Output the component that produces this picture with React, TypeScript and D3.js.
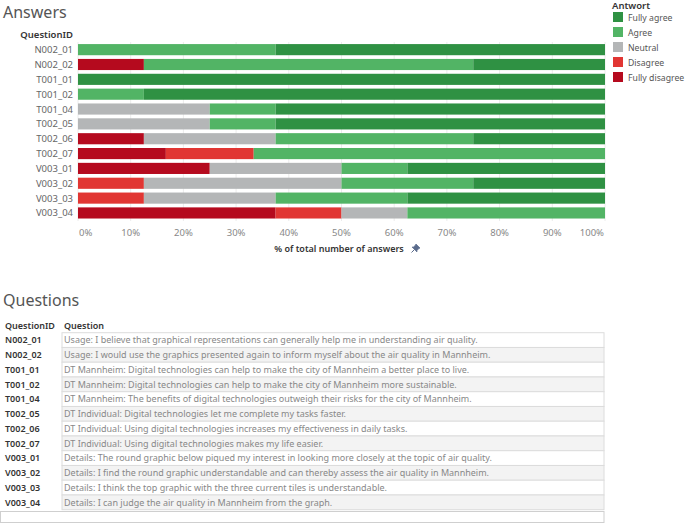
import React from "react";
import * as d3 from "d3";

const questionIds = ["N002_01","N002_02","T001_01","T001_02","T001_04","T002_05","T002_06","T002_07","V003_01","V003_02","V003_03","V003_04"];
const answers = ["Fully disagree","Disagree","Neutral","Agree","Fully agree"];
const legendOrder = ["Fully agree","Agree","Neutral","Disagree","Fully disagree"];
const answerColors = ["#b50a1e","#e13633","#b4b6b7","#52b465","#2f9143"];
// percentages per question: Fully disagree, Disagree, Neutral, Agree, Fully agree
const fullyDisagree = [0,12.5,0,0,0,0,12.5,16.67,25,0,0,37.5];
const disagree =      [0,0,0,0,0,0,0,16.67,0,12.5,12.5,12.5];
const neutral =       [0,0,0,0,25,25,25,0,25,37.5,25,12.5];
const agree =         [37.5,62.5,0,12.5,12.5,12.5,37.5,66.66,12.5,25,25,37.5];
const fullyAgree =    [62.5,25,100,87.5,62.5,62.5,25,0,37.5,25,37.5,0];
const xTicks = [0,10,20,30,40,50,60,70,80,90,100];
const questionTexts = [
  "Usage: I believe that graphical representations can generally help me in understanding air quality.",
  "Usage: I would use the graphics presented again to inform myself about the air quality in Mannheim.",
  "DT Mannheim: Digital technologies can help to make the city of Mannheim a better place to live.",
  "DT Mannheim: Digital technologies can help to make the city of Mannheim more sustainable.",
  "DT Mannheim: The benefits of digital technologies outweigh their risks for the city of Mannheim.",
  "DT Individual: Digital technologies let me complete my tasks faster.",
  "DT Individual: Using digital technologies increases my effectiveness in daily tasks.",
  "DT Individual: Using digital technologies makes my life easier.",
  "Details: The round graphic below piqued my interest in looking more closely at the topic of air quality.",
  "Details: I find the round graphic understandable and can thereby assess the air quality in Mannheim.",
  "Details: I think the top graphic with the three current tiles is understandable.",
  "Details: I can judge the air quality in Mannheim from the graph.",
];

const FONT = "'Noto Sans', sans-serif";

export default function App() {
  const W = 685, H = 524;
  const x = d3.scaleLinear().domain([0, 100]).range([78, 605]);
  const y = d3.scaleBand().domain(questionIds).range([42.3, 220.3]).paddingInner(0.25).paddingOuter(0.12);
  const rows = questionIds.map((id, i) => ({
    id,
    "Fully disagree": fullyDisagree[i],
    "Disagree": disagree[i],
    "Neutral": neutral[i],
    "Agree": agree[i],
    "Fully agree": fullyAgree[i],
  }));
  const stack = d3.stack<any>().keys(answers)(rows);
  const color = d3.scaleOrdinal<string, string>().domain(answers).range(answerColors);

  const tRow = d3.scaleBand().domain(questionIds).range([332.7, 509.7]);

  return (
    <svg width={W} height={H} style={{ position: "absolute", left: 0, top: 0, fontFamily: FONT }}>
      <rect width={W} height={H} fill="#fff" />
      <text x={3} y={18} fontSize={16} fill="#555">Answers</text>
      <text x={73} y={38} fontSize={9.5} fill="#333" textAnchor="end" fontWeight={600}>QuestionID</text>
      {xTicks.map(t => (
        <line key={t} x1={x(t)} x2={x(t)} y1={42} y2={221} stroke="#ececec" strokeWidth={1} />
      ))}
      {stack.map(s => (
        <g key={s.key} fill={color(s.key)}>
          {s.map((d, i) => d[1] - d[0] > 0 ? (
            <rect key={i} x={x(d[0])} y={y(questionIds[i])!} width={x(d[1]) - x(d[0])} height={y.bandwidth()} />
          ) : null)}
        </g>
      ))}
      {questionIds.map(id => (
        <text key={id} x={73} y={y(id)! + y.bandwidth() / 2 + 3.5} fontSize={9.5} fill="#666" textAnchor="end">{id}</text>
      ))}
      {xTicks.map((t, i) => (
        <text key={t} x={i === 0 ? 79 : i === xTicks.length - 1 ? 604 : x(t)} y={236} fontSize={9.5} fill="#888"
          textAnchor={i === 0 ? "start" : i === xTicks.length - 1 ? "end" : "middle"}>{t}%</text>
      ))}
      <text x={339} y={252} fontSize={9} fill="#333" fontWeight={600} textAnchor="middle">% of total number of answers</text>
      <g transform="translate(412,244)" fill="#5a6b8c" stroke="#5a6b8c" strokeWidth={0.7}>
        <path d="M4 0 L8 4 L6.5 4.8 L4.8 6.8 L5 8 L0 3 L1.2 3.2 L3.2 1.5 Z" />
        <path d="M2.5 5.5 L-0.5 8.5" fill="none" strokeWidth={1} />
      </g>

      <text x={612} y={9} fontSize={9.5} fill="#333" fontWeight={600}>Antwort</text>
      {legendOrder.map((k, i) => (
        <g key={k}>
          <rect x={613} y={12 + i * 15} width={10} height={10} fill={color(k)} />
          <text x={628} y={21 + i * 15} fontSize={8.7} fill="#555">{k}</text>
        </g>
      ))}

      <text x={3} y={306} fontSize={16} fill="#555">Questions</text>
      <text x={5} y={329} fontSize={9} fill="#333" fontWeight={600}>QuestionID</text>
      <text x={64} y={329} fontSize={9} fill="#333" fontWeight={600}>Question</text>
      {questionIds.map((id, i) => (
        <g key={id}>
          <rect x={62} y={tRow(id)!} width={542} height={tRow.bandwidth()} fill={i % 2 === 1 ? "#f3f3f3" : "#fff"} stroke="#dcdcdc" strokeWidth={1} />
          <text x={5} y={tRow(id)! + tRow.bandwidth() / 2 + 3.2} fontSize={9} fill="#333" fontWeight={600}>{id}</text>
          <text x={64} y={tRow(id)! + tRow.bandwidth() / 2 + 3.2} fontSize={9} fill="#888">{questionTexts[i]}</text>
        </g>
      ))}
      <rect x={0.5} y={511.5} width={603.5} height={11} fill="#fff" stroke="#cfcfcf" strokeWidth={1} />
    </svg>
  );
}
